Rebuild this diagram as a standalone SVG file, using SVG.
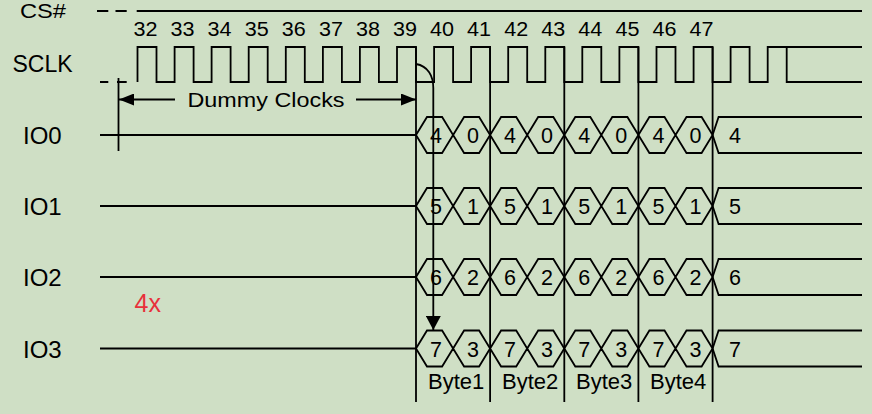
<svg xmlns="http://www.w3.org/2000/svg" xmlns:xlink="http://www.w3.org/1999/xlink" width="872" height="414" viewBox="0 0 872 414">
  <style>
    .ln { fill: none; stroke: #000; stroke-width: 1.8; }
    .t { font-family: "Liberation Sans", Arial, sans-serif; fill: #000; }
    .sig { font-size: 24px; }
    .num { font-size: 19.5px; text-anchor: middle; }
    .dg { font-size: 21.5px; text-anchor: middle; }
    .byte { font-size: 22px; }
  </style>
  <defs>
    <marker id="ahL" markerUnits="userSpaceOnUse" markerWidth="15" markerHeight="12" refX="15" refY="6" orient="auto">
      <path d="M0,0 L15,6 L0,12 Z" fill="#000"/>
    </marker>
    <marker id="ahD" markerUnits="userSpaceOnUse" markerWidth="14" markerHeight="15" refX="14" refY="7.5" orient="auto">
      <path d="M0,0 L14,7.5 L0,15 Z" fill="#000"/>
    </marker>
    <path id="busrow" class="ln" d="M100,0 H416 M416,0 L427,-18 H442.1 L453.1,0 L442.1,18 H427 Z M453.1,0 L464.1,-18 H479.1 L490.1,0 L479.1,18 H464.1 Z M490.1,0 L501.1,-18 H516.2 L527.2,0 L516.2,18 H501.1 Z M527.2,0 L538.2,-18 H553.3 L564.3,0 L553.3,18 H538.2 Z M564.3,0 L575.3,-18 H590.3 L601.3,0 L590.3,18 H575.3 Z M601.3,0 L612.3,-18 H627.4 L638.4,0 L627.4,18 H612.3 Z M638.4,0 L649.4,-18 H664.5 L675.5,0 L664.5,18 H649.4 Z M675.5,0 L686.5,-18 H701.6 L712.6,0 L701.6,18 H686.5 Z M862,-18 H718.6 L712.6,0 L718.6,18 H862"/>
  </defs>

  <rect x="0" y="0" width="872" height="414" fill="#cfdfc5"/>

  <g id="cs">
    <text class="t" x="20" y="18" font-size="21" textLength="46" lengthAdjust="spacingAndGlyphs">CS#</text>
    <path class="ln" d="M97,11 H108.3 M115.5,11 H126.7 M136.7,11 H862"/>
  </g>

  <g id="clock-numbers">
    <text class="t num" x="145.5" y="35.5" textLength="24" lengthAdjust="spacingAndGlyphs">32</text>
    <text class="t num" x="182.6" y="35.5" textLength="24" lengthAdjust="spacingAndGlyphs">33</text>
    <text class="t num" x="219.6" y="35.5" textLength="24" lengthAdjust="spacingAndGlyphs">34</text>
    <text class="t num" x="256.7" y="35.5" textLength="24" lengthAdjust="spacingAndGlyphs">35</text>
    <text class="t num" x="293.8" y="35.5" textLength="24" lengthAdjust="spacingAndGlyphs">36</text>
    <text class="t num" x="330.9" y="35.5" textLength="24" lengthAdjust="spacingAndGlyphs">37</text>
    <text class="t num" x="367.9" y="35.5" textLength="24" lengthAdjust="spacingAndGlyphs">38</text>
    <text class="t num" x="405" y="35.5" textLength="24" lengthAdjust="spacingAndGlyphs">39</text>
    <text class="t num" x="442.1" y="35.5" textLength="24" lengthAdjust="spacingAndGlyphs">40</text>
    <text class="t num" x="479.1" y="35.5" textLength="24" lengthAdjust="spacingAndGlyphs">41</text>
    <text class="t num" x="516.2" y="35.5" textLength="24" lengthAdjust="spacingAndGlyphs">42</text>
    <text class="t num" x="553.3" y="35.5" textLength="24" lengthAdjust="spacingAndGlyphs">43</text>
    <text class="t num" x="590.3" y="35.5" textLength="24" lengthAdjust="spacingAndGlyphs">44</text>
    <text class="t num" x="627.4" y="35.5" textLength="24" lengthAdjust="spacingAndGlyphs">45</text>
    <text class="t num" x="664.5" y="35.5" textLength="24" lengthAdjust="spacingAndGlyphs">46</text>
    <text class="t num" x="701.6" y="35.5" textLength="24" lengthAdjust="spacingAndGlyphs">47</text>
  </g>

  <g id="sclk">
    <text class="t" x="12.5" y="72" font-size="23">SCLK</text>
    <path class="ln" d="M100,82 H108.3 M117,82 H126.7"/>
    <path class="ln" d="M137.5,82 V47 H156.5 V82 H174.6 V47 H193.6 V82 H211.6 V47 H230.6 V82 H248.7 V47 H267.7 V82 H285.8 V47 H304.8 V82 H322.9 V47 H341.9 V82 H359.9 V47 H378.9 V82 H397 V47 H416 V82 H434.1 V47 H453.1 V82 H471.1 V47 H490.1 V82 H508.2 V47 H527.2 V82 H545.3 V47 H564.3 V82 H582.3 V47 H601.3 V82 H619.4 V47 H638.4 V82 H656.5 V47 H675.5 V82 H693.6 V47 H712.6 V82 H730.6 V47 H749.6 V82 H767.7 V47 H786.7 V82 H862 M786.7,47 H862"/>
  </g>

  <g id="byte-dividers">
    <path class="ln" d="M416,47 V402 M490.1,47 V402 M564.3,47 V402 M638.4,47 V402 M712.6,47 V402"/>
  </g>

  <g id="io0">
    <text class="t sig" x="23" y="144">IO0</text>
    <use xlink:href="#busrow" href="#busrow" transform="translate(0,135)"/>
    <g class="t dg">
      <text x="436" y="143">4</text><text x="473" y="143">0</text><text x="510" y="143">4</text><text x="547" y="143">0</text>
      <text x="584.3" y="143">4</text><text x="621.3" y="143">0</text><text x="658.4" y="143">4</text><text x="695.5" y="143">0</text>
      <text x="735" y="143">4</text>
    </g>
  </g>

  <g id="io1">
    <text class="t sig" x="23" y="215">IO1</text>
    <use xlink:href="#busrow" href="#busrow" transform="translate(0,206)"/>
    <g class="t dg">
      <text x="436" y="214">5</text><text x="473" y="214">1</text><text x="510" y="214">5</text><text x="547" y="214">1</text>
      <text x="584.3" y="214">5</text><text x="621.3" y="214">1</text><text x="658.4" y="214">5</text><text x="695.5" y="214">1</text>
      <text x="735" y="214">5</text>
    </g>
  </g>

  <g id="io2">
    <text class="t sig" x="23" y="286">IO2</text>
    <use xlink:href="#busrow" href="#busrow" transform="translate(0,277)"/>
    <g class="t dg">
      <text x="436" y="285">6</text><text x="473" y="285">2</text><text x="510" y="285">6</text><text x="547" y="285">2</text>
      <text x="584.3" y="285">6</text><text x="621.3" y="285">2</text><text x="658.4" y="285">6</text><text x="695.5" y="285">2</text>
      <text x="735" y="285">6</text>
    </g>
  </g>

  <g id="io3">
    <text class="t sig" x="23" y="357.5">IO3</text>
    <use xlink:href="#busrow" href="#busrow" transform="translate(0,348.5)"/>
    <g class="t dg">
      <text x="436" y="356.5">7</text><text x="473" y="356.5">3</text><text x="510" y="356.5">7</text><text x="547" y="356.5">3</text>
      <text x="584.3" y="356.5">7</text><text x="621.3" y="356.5">3</text><text x="658.4" y="356.5">7</text><text x="695.5" y="356.5">3</text>
      <text x="735" y="356.5">7</text>
    </g>
  </g>

  <g id="byte-labels">
    <text class="t byte" x="428" y="389">Byte1</text>
    <text class="t byte" x="502" y="389">Byte2</text>
    <text class="t byte" x="576" y="389">Byte3</text>
    <text class="t byte" x="650" y="389">Byte4</text>
  </g>

  <g id="label-4x">
    <text x="134.5" y="311.5" font-family="Liberation Sans, Arial, sans-serif" font-size="25" fill="#e8313b">4x</text>
  </g>

  <g id="dummy-clocks">
    <text class="t" x="187.5" y="107" font-size="20.5" textLength="157" lengthAdjust="spacingAndGlyphs">Dummy Clocks</text>
  </g>

  <g id="connectors">
    <path class="ln" d="M118.5,78 V151"/>
    <path class="ln" d="M175,99.5 H119" marker-end="url(#ahL)"/>
    <path class="ln" d="M356,99.5 H416" marker-end="url(#ahL)"/>
    <path class="ln" d="M416,64 C428,66 433.3,76 433.3,88 V330" marker-end="url(#ahD)"/>
  </g>
</svg>
